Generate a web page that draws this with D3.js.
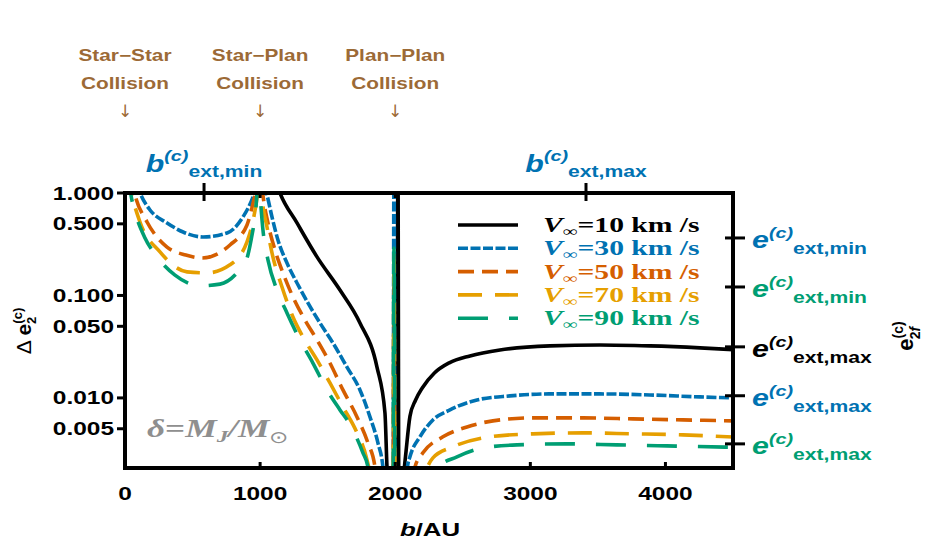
<!DOCTYPE html>
<html><head><meta charset="utf-8">
<script src="https://cdn.jsdelivr.net/npm/d3@7"></script>
<style>html,body{margin:0;padding:0;background:#fff;}</style>
</head><body>
<svg id="chart" width="926" height="545"></svg>
<script>
// ---------------- data ----------------
const xTicks = [0, 1000, 2000, 3000, 4000];
const yTicks = [1, 0.5, 0.1, 0.05, 0.01, 0.005];
const yTickLabels = ["1.000", "0.500", "0.100", "0.050", "0.010", "0.005"];

const seriesNames = ["10", "30", "50", "70", "90"];

const blackB = [1100, 1147, 1273, 1421, 1591, 1739, 1865, 1924, 1939, 1955, 2013, 2020, 2027, 2050, 2065, 2080, 2109, 2150, 2200, 2290, 2400, 2553, 2775, 3145, 3515, 3885, 4256, 4500];
const blackV = [1.5, 1.0, 0.51, 0.238, 0.113, 0.0539, 0.02, 0.00714, 0.00212, 0.001, 0.001, 3, 0.001, 0.001, 0.0019, 0.003, 0.0066, 0.0095, 0.0125, 0.0175, 0.022, 0.0257, 0.0294, 0.0322, 0.0329, 0.0322, 0.0308, 0.0296];

const blueB = [60, 118, 185, 311, 430, 577, 755, 873, 947, 985, 1000, 1020, 1051, 1088, 1132, 1199, 1273, 1354, 1443, 1539, 1643, 1739, 1813, 1872, 1909, 1930, 1984, 1991, 1998, 2070, 2090, 2109, 2183, 2279, 2405, 2605, 2849, 3145, 3515, 3885, 4256, 4500];
const blueV = [1.6, 0.956, 0.683, 0.51, 0.416, 0.372, 0.407, 0.583, 0.914, 1.3, 1.6, 1.3, 0.956, 0.583, 0.348, 0.207, 0.1324, 0.0845, 0.0539, 0.0344, 0.02, 0.01197, 0.00653, 0.00364, 0.00212, 0.001, 0.001, 3, 0.001, 0.001, 0.0021, 0.00266, 0.00417, 0.0061, 0.00764, 0.00956, 0.01046, 0.01094, 0.01094, 0.01069, 0.01023, 0.01];

const vermB = [40, 74, 163, 311, 450, 570, 777, 903, 962, 985, 1000, 1010, 1021, 1058, 1110, 1169, 1243, 1332, 1421, 1517, 1613, 1717, 1798, 1850, 1870, 1984, 1991, 1998, 2130, 2146, 2205, 2353, 2531, 2723, 3019, 3390, 3759, 4130, 4500];
const vermV = [1.5, 0.956, 0.521, 0.297, 0.248, 0.232, 0.311, 0.488, 0.956, 1.3, 1.5, 1.3, 0.956, 0.51, 0.278, 0.166, 0.0967, 0.0577, 0.0368, 0.0219, 0.01197, 0.00653, 0.00364, 0.00212, 0.001, 0.001, 0.25, 0.001, 0.001, 0.00212, 0.00291, 0.00417, 0.00521, 0.00597, 0.00638, 0.00638, 0.00624, 0.0061, 0.00597];

const orangeB = [20, 52, 111, 259, 459, 607, 777, 903, 977, 990, 1000, 1007, 1014, 1051, 1088, 1162, 1243, 1317, 1421, 1517, 1613, 1717, 1791, 1815, 1830, 1984, 1991, 1998, 2150, 2235, 2279, 2427, 2701, 3019, 3390, 3759, 4130, 4500];
const orangeV = [1.6, 0.956, 0.521, 0.266, 0.17, 0.166, 0.199, 0.333, 0.894, 1.2, 1.5, 1.2, 0.914, 0.466, 0.26, 0.121, 0.0617, 0.0394, 0.0235, 0.014, 0.00817, 0.00456, 0.00248, 0.0017, 0.001, 0.001, 0.25, 0.001, 0.001, 0.00208, 0.0026, 0.00333, 0.00417, 0.00446, 0.00456, 0.00446, 0.00436, 0.00415];

const greenB = [20, 44, 81, 148, 244, 370, 555, 703, 814, 903, 947, 962, 988, 1000, 1021, 1058, 1125, 1199, 1295, 1391, 1495, 1591, 1665, 1761, 1798, 1820, 1984, 1991, 1998, 2250, 2309, 2457, 2649, 2901, 3271, 3641, 4011, 4500];
const greenV = [1.6, 0.956, 0.61, 0.364, 0.232, 0.158, 0.124, 0.129, 0.158, 0.232, 0.436, 0.57, 1.3, 0.914, 0.436, 0.222, 0.113, 0.0675, 0.0368, 0.0219, 0.01197, 0.00764, 0.0055, 0.00291, 0.00212, 0.0012, 0.001, 0.29, 0.001, 0.001, 0.00208, 0.00266, 0.00325, 0.00348, 0.00356, 0.00348, 0.0034, 0.0033];

// characteristic points (top and right frame ticks)
const bExtTicks = [585, 3412];
const bExtLabels = ["ext,min", "ext,max"];
const eExtTicks = [0.364, 0.121, 0.0315, 0.0105, 0.00356];
const eExtLabels = ["ext,min", "ext,min", "ext,max", "ext,max", "ext,max"];
const eExtSeries = [1, 4, 0, 1, 4];

const collisionTop = ["Star\u2212Star", "Star\u2212Plan", "Plan\u2212Plan"];
const collisionB = [0, 1000, 2000];

// ---------------- styles ----------------
const COLORS = ["#000000", "#0072B2", "#D55E00", "#E69F00", "#009E73"];
const DASH = [null, "10,2.5", "16,8", "24,13", "30,21"];
const BROWN = "#9c6a36";
const SANS = "'Liberation Sans', Arial, Helvetica, sans-serif";
const SERIF = "'Liberation Serif', 'Times New Roman', serif";
const SX = 1.36;

const series = [
  {b: blackB, v: blackV}, {b: blueB, v: blueV}, {b: vermB, v: vermV},
  {b: orangeB, v: orangeV}, {b: greenB, v: greenV}
];

const L = 125, R = 733, T = 193, B = 468;
const svg = d3.select("#chart");
const x = d3.scaleLinear().domain([0, 4500]).range([L, R]);
const y = d3.scaleLog().domain([0.00207, 1]).range([B, T]);

svg.append("defs").append("clipPath").attr("id", "plotclip")
  .append("rect").attr("x", L).attr("y", T).attr("width", R - L).attr("height", B - T);

const line = d3.line().x(d => x(d[0])).y(d => y(d[1])).curve(d3.curveMonotoneX);
const plot = svg.append("g").attr("clip-path", "url(#plotclip)");
series.forEach((s, i) => {
  const pts = s.b.map((b, k) => [b, s.v[k]]);
  plot.append("path").datum(pts).attr("d", line)
    .attr("fill", "none").attr("stroke", COLORS[i]).attr("stroke-width", 3.6)
    .attr("stroke-dasharray", DASH[i]).attr("stroke-linejoin", "round");
});

// ---------------- frame & ticks ----------------
const fr = svg.append("g").attr("stroke", "#000").attr("stroke-width", 3);
fr.append("rect").attr("x", L).attr("y", T).attr("width", R - L).attr("height", B - T)
  .attr("fill", "none").attr("stroke-width", 4);
xTicks.filter(t => t > 0).forEach(t => {
  fr.append("line").attr("x1", x(t)).attr("x2", x(t)).attr("y1", B).attr("y2", B - 6);
});
[1000, 2000].forEach(t => {
  fr.append("line").attr("x1", x(t)).attr("x2", x(t)).attr("y1", T).attr("y2", T + 5);
});
yTicks.forEach(t => {
  fr.append("line").attr("x1", L - 8).attr("x2", L).attr("y1", y(t)).attr("y2", y(t));
});
bExtTicks.forEach(t => {
  fr.append("line").attr("x1", x(t)).attr("x2", x(t)).attr("y1", T - 10).attr("y2", T + 8);
});
eExtTicks.forEach(t => {
  fr.append("line").attr("x1", R - 8).attr("x2", R + 12).attr("y1", y(t)).attr("y2", y(t));
});

// ---------------- text helper ----------------
function rich(tx, ty, parts, o) {
  o = o || {};
  const t = svg.append("text")
    .attr("transform", o.transform || `translate(${tx},${ty}) scale(${o.sx == null ? SX : o.sx},1)`)
    .attr("text-anchor", o.anchor || "start")
    .attr("font-family", o.family || SANS)
    .attr("font-weight", o.weight || "bold")
    .attr("font-size", o.size || 18)
    .attr("fill", o.fill || "#000");
  parts.forEach(p => {
    const s = t.append("tspan").text(p.t);
    if (p.size) s.attr("font-size", p.size);
    if (p.italic) s.attr("font-style", "italic");
    if (p.dy) s.attr("dy", p.dy);
    if (p.dx) s.attr("dx", p.dx);
    if (p.weight) s.attr("font-weight", p.weight);
    if (p.family) s.attr("font-family", p.family);
  });
  return t;
}

// tick labels
yTicks.forEach((t, i) => rich(114, y(t) + 6.5, [{t: yTickLabels[i]}], {anchor: "end", size: 18}));
xTicks.forEach(t => rich(x(t), 500, [{t: String(t)}], {anchor: "middle", size: 18}));

// axis titles
rich(430, 536, [{t: "b", italic: true}, {t: "/AU"}], {anchor: "middle", size: 19});
rich(0, 0, [{t: "\u0394 ", weight: "normal"}, {t: "e"}, {t: "2", size: 13, dy: 5}, {t: "(c)", size: 13, dx: -7, dy: -14}],
  {transform: "translate(31,331) rotate(-90)", anchor: "middle", size: 21});
rich(0, 0, [{t: "e"}, {t: "(c)", size: 14, dy: -10}, {t: "2", size: 14, dx: -18, dy: 17}, {t: "f", size: 14, italic: true}],
  {transform: "translate(913,336) rotate(-90)", anchor: "middle", size: 22});

// collision annotations
collisionTop.forEach((s, i) => {
  const cx = x(collisionB[i]);
  rich(cx, 61, [{t: s}], {anchor: "middle", size: 16, fill: BROWN, sx: 1.3});
  rich(cx, 89, [{t: "Collision"}], {anchor: "middle", size: 16, fill: BROWN, sx: 1.3});
  rich(cx, 117, [{t: "\u2193"}], {anchor: "middle", size: 17, fill: BROWN, sx: 1, family: "'DejaVu Sans', sans-serif", weight: "normal"});
});

// top b_ext labels
bExtTicks.forEach((t, i) => {
  rich(x(t), 172, [{t: "b", italic: true, size: 23}, {t: "(c)", italic: true, size: 15, dy: -11},
    {t: bExtLabels[i], size: 16, dy: 16}], {anchor: "middle", fill: COLORS[1], sx: 1.32});
});

// right e_ext labels
eExtTicks.forEach((t, i) => {
  const ty = y(t);
  rich(752, ty + 10, [{t: "e", italic: true, size: 23}, {t: "(c)", italic: true, size: 15, dy: -10},
    {t: eExtLabels[i], size: 16, dy: 16}], {fill: COLORS[eExtSeries[i]], sx: 1.32});
});

// legend
const legY0 = 225, legDY = 23.3;
seriesNames.forEach((n, i) => {
  const ly = legY0 + i * legDY;
  svg.append("line").attr("x1", 458).attr("x2", 518).attr("y1", ly).attr("y2", ly)
    .attr("stroke", COLORS[i]).attr("stroke-width", 3.6).attr("stroke-dasharray", DASH[i]);
  rich(543, ly + 7, [{t: "V", italic: true}, {t: "\u221E", size: 14, dy: 4, weight: "normal"},
    {t: "=" + n + " km /s", dy: -4}], {family: SERIF, size: 20, fill: COLORS[i], sx: 1.48});
});

// delta annotation
rich(147, 437, [{t: "\u03B4", italic: true}, {t: "="}, {t: "M", italic: true}, {t: "J", italic: true, size: 17, dy: 5},
  {t: "/", italic: true, dy: -5}, {t: "M", italic: true}, {t: "\u2299", size: 17, dy: 6, weight: "normal"}],
  {family: SERIF, size: 26, fill: "#8f8f8f", sx: 1.36});
</script>
</body></html>
